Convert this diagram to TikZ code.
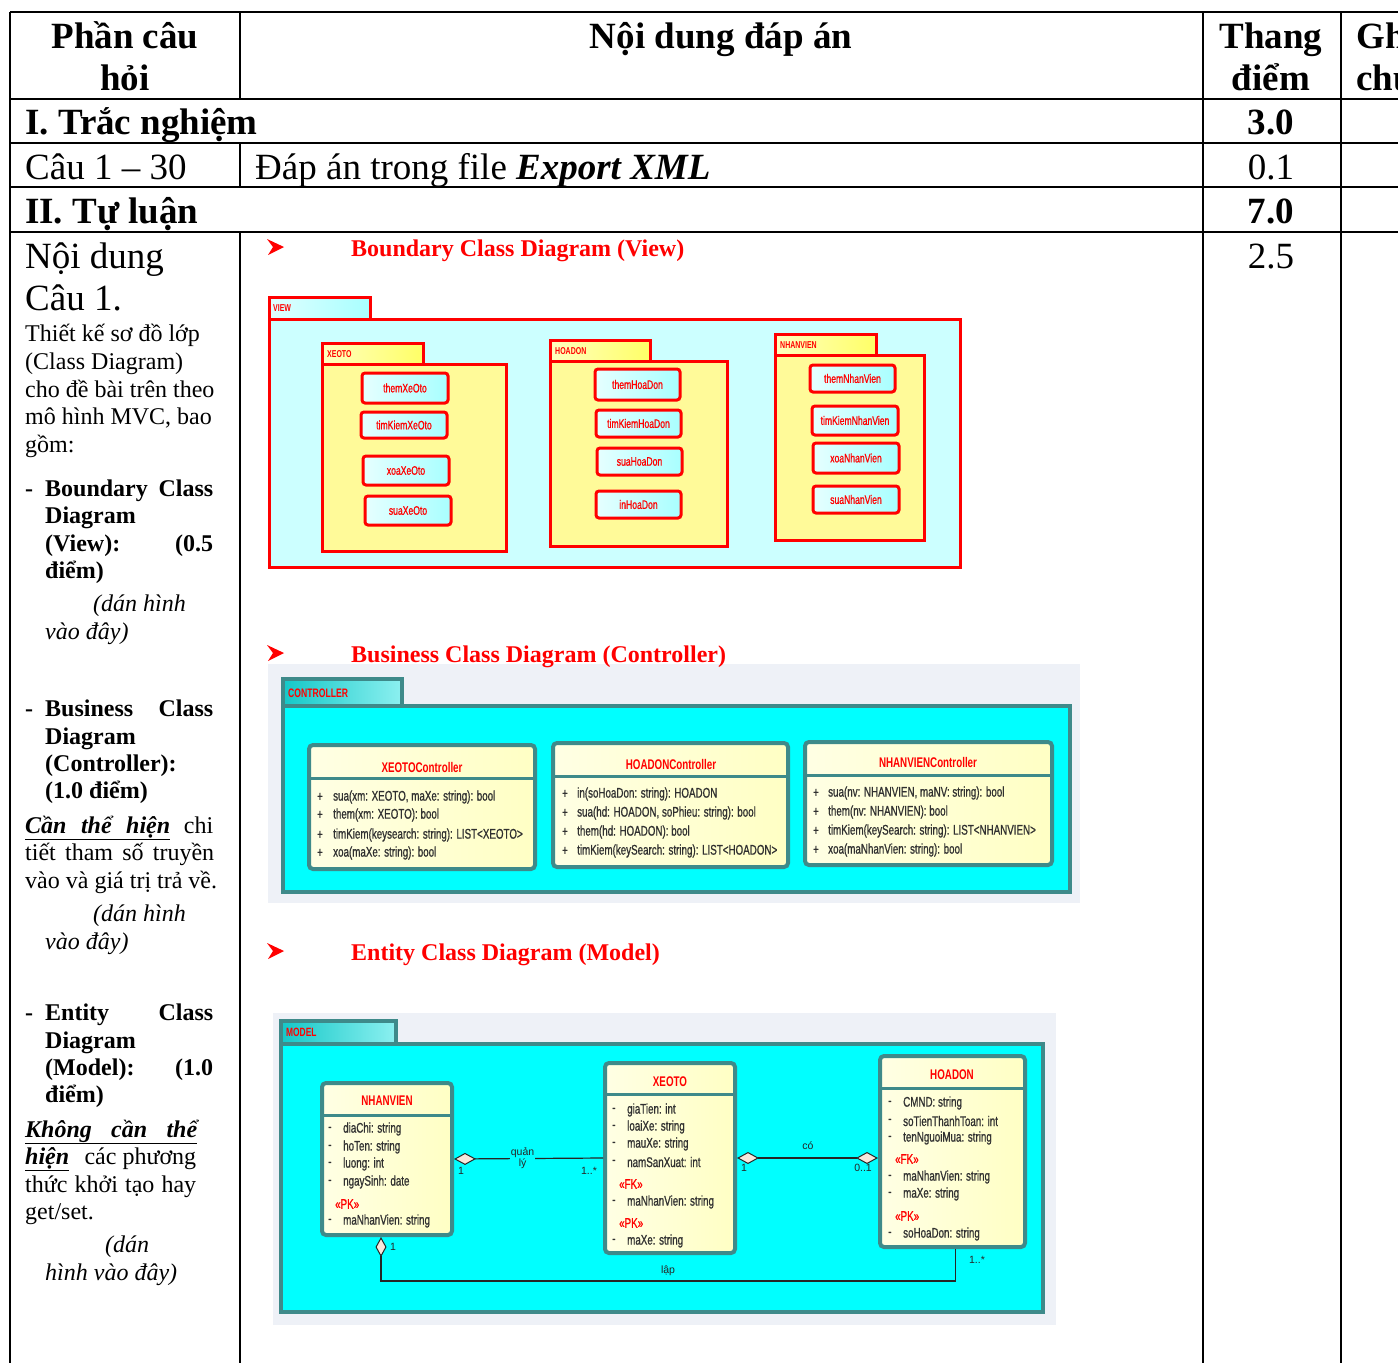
\documentclass[tikz,border=0pt]{standalone}
\usepackage{fontspec}
\setmainfont{Liberation Serif}
\newfontfamily\cnd[FakeStretch=0.7]{Liberation Sans}
\newfontfamily\cndm[FakeStretch=0.7,FakeBold=0.8]{Liberation Sans}
\newfontfamily\lsans{Liberation Sans}
\usetikzlibrary{arrows.meta}
\definecolor{tealb}{HTML}{3E8A8A}
\definecolor{cyanbg}{HTML}{00FFFF}
\definecolor{viewbg}{HTML}{CCFFFF}
\definecolor{pkgyel}{HTML}{FFFA99}
\definecolor{clsyel}{HTML}{FFFFC4}
\definecolor{clsyelL}{HTML}{FFFFE4}
\definecolor{greybg}{HTML}{EEF1F7}
\definecolor{diafill}{HTML}{F8E8DC}
\definecolor{ctabL}{HTML}{14C8C8}
\definecolor{ctabR}{HTML}{8CF0F0}
\definecolor{vtabL}{HTML}{E0FFFF}
\definecolor{vtabR}{HTML}{A8FFFF}
\definecolor{ytabL}{HTML}{FFFFC0}
\definecolor{ytabR}{HTML}{FFFF66}
\definecolor{btnL}{HTML}{E6FFFF}
\definecolor{btnR}{HTML}{A8FFFF}
\definecolor{rowtxt}{HTML}{303030}
\newcommand\fbig{\fontsize{37}{42}\selectfont}
\newcommand\fmid{\fontsize{24}{28}\selectfont}
\newcommand\fcls{\cnd\fontsize{14}{16}\selectfont}
\newcommand\frow{\cndm\fontsize{14}{16}\selectfont}
\newcommand\fbtn{\cndm\fontsize{12.3}{14}\selectfont}
\newcommand\fplbl{\cnd\bfseries\fontsize{10}{11}\selectfont}
\newcommand\fmult{\lsans\fontsize{10.5}{11}\selectfont}
\newcommand\boxat[7]{\node[#1, minimum width={#5-#3}, minimum height={#6-#4}] (#2) at ({(#3+#5)/2},{(#4+#6)/2}) {#7};}
\tikzset{mydia/.tip={Diamond[length=22pt,width=12pt,fill=diafill,line width=1pt]}}
\begin{document}
\begin{tikzpicture}[x=1pt,y=-1pt,
  tbl/.style={line width=2.8pt},
  T/.style={inner sep=0pt,anchor=base west},
  Tc/.style={inner sep=0pt,anchor=base},
  vbody/.style={draw=red,line width=3pt,fill=viewbg,inner sep=0pt},
  vtab/.style={draw=red,line width=3pt,left color=vtabL,right color=vtabR,inner sep=0pt},
  ybody/.style={draw=red,line width=3pt,fill=pkgyel,inner sep=0pt},
  ytab/.style={draw=red,line width=3pt,left color=ytabL,right color=ytabR,inner sep=0pt},
  btn/.style={draw=red,line width=3pt,rounded corners=3pt,left color=btnL,right color=btnR,text=red,font=\fbtn,inner sep=0pt},
  plbl/.style={inner sep=0pt,anchor=west,text=red,font=\fplbl},
  cbg/.style={fill=greybg,draw=none,inner sep=0pt},
  ctab/.style={draw=tealb,line width=3.5pt,left color=ctabL,right color=ctabR,inner sep=0pt},
  cbody/.style={draw=tealb,line width=4pt,fill=cyanbg,inner sep=0pt},
  cls/.style={draw=tealb,line width=4pt,rounded corners=4pt,left color=clsyelL,right color=clsyel,inner sep=0pt},
  sep/.style={draw=tealb,line width=3pt},
  ctitle/.style={inner sep=0pt,text=red,font=\fcls\bfseries},
  row/.style={inner sep=0pt,anchor=west,text=rowtxt,font=\frow},
  stereo/.style={inner sep=0pt,anchor=west,text=red,font=\frow},
  assoc/.style={draw=black!85,line width=1.2pt},
  mult/.style={inner sep=0pt,text=black!85,font=\fmult},
  head/.style={inner sep=0pt,anchor=base west,text=red,font=\fmid\bfseries}
]
\useasboundingbox (0,0) rectangle (1398,1363);
\clip (0,0) rectangle (1398,1363);
\fill[white] (0,0) rectangle (1398,1363);

% ---------------- table grid
\draw[tbl] (10,12) -- (1398,12);
\draw[tbl] (10,99) -- (1398,99);
\draw[tbl] (10,143) -- (1398,143);
\draw[tbl] (10,187) -- (1398,187);
\draw[tbl] (10,232) -- (1398,232);
\draw[tbl] (10,12) -- (10,1363);
\draw[tbl] (240,12) -- (240,99);
\draw[tbl] (240,143) -- (240,187);
\draw[tbl] (240,232) -- (240,1363);
\draw[tbl] (1203,12) -- (1203,1363);
\draw[tbl] (1341,12) -- (1341,1363);

% ---------------- header texts
\node[Tc,font=\fbig\bfseries] (h1a) at (125,48) {Phần câu};
\node[Tc,font=\fbig\bfseries] (h1b) at (125,90) {hỏi};
\node[Tc,font=\fbig\bfseries] (h2) at (721,48) {Nội dung đáp án};
\node[Tc,font=\fbig\bfseries] (h3a) at (1271,48) {Thang};
\node[Tc,font=\fbig\bfseries] (h3b) at (1271,90) {điểm};
\node[T,font=\fbig\bfseries] (h4a) at (1356,48) {Ghi};
\node[T,font=\fbig\bfseries] (h4b) at (1356,90) {chú};

\node[T,font=\fbig\bfseries] (r1) at (25,134) {I. Trắc nghiệm};
\node[Tc,font=\fbig\bfseries] (r1s) at (1271,134) {3.0};
\node[T,font=\fbig] (r2) at (25,179) {Câu 1 – 30};
\node[T,font=\fbig] (r2b) at (255,179) {Đáp án trong file \textbf{\textit{Export XML}}};
\node[Tc,font=\fbig] (r2s) at (1271,179) {0.1};
\node[T,font=\fbig\bfseries] (r3) at (25,223) {II. Tự luận};
\node[Tc,font=\fbig\bfseries] (r3s) at (1271,223) {7.0};
\node[Tc,font=\fbig] (r4s) at (1271,268) {2.5};

% ---------------- left column
\node[T,font=\fbig] (nd1) at (25,268) {Nội dung};
\node[T,font=\fbig] (nd2) at (25,310) {Câu 1.};
\node[T,font=\fmid] (l1) at (25,341) {Thiết kế sơ đồ lớp};
\node[T,font=\fmid] (l2) at (25,369) {(Class Diagram)};
\node[T,font=\fmid] (l3) at (25,397) {cho đề bài trên theo};
\node[T,font=\fmid] (l4) at (25,424) {mô hình MVC, bao};
\node[T,font=\fmid] (l5) at (25,452) {gồm:};

\node[T,font=\fmid\bfseries] (b1d) at (25,496) {-};
\node[T,font=\fmid\bfseries] (b1a) at (45,496) {\makebox[168pt][s]{Boundary Class}};
\node[T,font=\fmid\bfseries] (b1b) at (45,523) {Diagram};
\node[T,font=\fmid\bfseries] (b1c) at (45,551) {\makebox[168pt][s]{(View): (0.5}};
\node[T,font=\fmid\bfseries] (b1e) at (45,578) {điểm)};
\node[T,font=\fmid\itshape] (b1f) at (93,611) {(dán hình};
\node[T,font=\fmid\itshape] (b1g) at (45,639) {vào đây)};

\node[T,font=\fmid\bfseries] (b2d) at (25,716) {-};
\node[T,font=\fmid\bfseries] (b2a) at (45,716) {\makebox[168pt][s]{Business Class}};
\node[T,font=\fmid\bfseries] (b2b) at (45,744) {Diagram};
\node[T,font=\fmid\bfseries] (b2c) at (45,771) {(Controller):};
\node[T,font=\fmid\bfseries] (b2e) at (45,798) {(1.0 điểm)};
\node[T,font=\fmid] (b2f) at (25,833) {\makebox[188pt]{\underline{\makebox[145pt][s]{\bfseries\itshape Cần thể hiện}}\hfill chi}};
\node[T,font=\fmid] (b2g) at (25,860) {\makebox[189pt][s]{tiết tham số truyền}};
\node[T,font=\fmid] (b2h) at (25,888) {vào và giá trị trả về.};
\node[T,font=\fmid\itshape] (b2i) at (93,921) {(dán hình};
\node[T,font=\fmid\itshape] (b2j) at (45,949) {vào đây)};

\node[T,font=\fmid\bfseries] (b3d) at (25,1020) {-};
\node[T,font=\fmid\bfseries] (b3a) at (45,1020) {\makebox[168pt][s]{Entity Class}};
\node[T,font=\fmid\bfseries] (b3b) at (45,1048) {Diagram};
\node[T,font=\fmid\bfseries] (b3c) at (45,1075) {\makebox[168pt][s]{(Model): (1.0}};
\node[T,font=\fmid\bfseries] (b3e) at (45,1102) {điểm)};
\node[T,font=\fmid] (b3f) at (25,1137) {\underline{\makebox[172pt][s]{\bfseries\itshape Không cần thể}}};
\node[T,font=\fmid] (b3g) at (25,1164) {\makebox[171pt]{\underline{\bfseries\itshape hiện}\hfill các phương}};
\node[T,font=\fmid] (b3h) at (25,1192) {\makebox[171pt][s]{thức khởi tạo hay}};
\node[T,font=\fmid] (b3i) at (25,1219) {get/set.};
\node[T,font=\fmid\itshape] (b3j) at (105,1252) {(dán};
\node[T,font=\fmid\itshape] (b3k) at (45,1280) {hình vào đây)};

% ---------------- VIEW
\boxat{vbody}{view}{269}{319}{960}{567}{}
\boxat{vtab}{viewtab}{269}{297}{370}{319}{}
\node[plbl] (viewl) at (273,308) {VIEW};

\boxat{ybody}{pxe}{322}{364}{506}{551}{}
\boxat{ytab}{pxet}{322}{343}{423}{364}{}
\node[plbl] (pxel) at (327,354) {XEOTO};
\boxat{btn}{v1}{362}{373}{448}{403}{themXeOto}
\boxat{btn}{v2}{361}{412}{447}{438}{timKiemXeOto}
\boxat{btn}{v3}{363}{456}{449}{485}{xoaXeOto}
\boxat{btn}{v4}{365}{496}{451}{525}{suaXeOto}

\boxat{ybody}{phd}{550}{361}{727}{546}{}
\boxat{ytab}{phdt}{550}{340}{650}{361}{}
\node[plbl] (phdl) at (555,351) {HOADON};
\boxat{btn}{v5}{595}{369}{680}{400}{themHoaDon}
\boxat{btn}{v6}{596}{410}{681}{437}{timKiemHoaDon}
\boxat{btn}{v7}{597}{448}{682}{475}{suaHoaDon}
\boxat{btn}{v8}{596}{491}{681}{518}{inHoaDon}

\boxat{ybody}{pnv}{775}{355}{924}{540}{}
\boxat{ytab}{pnvt}{775}{334}{876}{355}{}
\node[plbl] (pnvl) at (780,345) {NHANVIEN};
\boxat{btn}{v9}{810}{365}{895}{392}{themNhanVien}
\boxat{btn}{v10}{812}{406}{898}{435}{timKiemNhanVien}
\boxat{btn}{v11}{813}{443}{899}{473}{xoaNhanVien}
\boxat{btn}{v12}{813}{486}{899}{513}{suaNhanVien}

% ---------------- CONTROLLER
\boxat{cbg}{ctrlbg}{268}{664}{1080}{903}{}
\boxat{cbody}{ctrl}{283}{706}{1070}{892}{}
\boxat{ctab}{ctrlt}{283}{679}{402}{706}{}
\node[plbl,font=\cnd\bfseries\fontsize{12.3}{14}\selectfont] (ctrll) at (288,693) {CONTROLLER};

\boxat{cls}{xc}{309}{745}{535}{869}{}
\draw[sep] ([yshift=-35pt]xc.north west) -- ([yshift=-35pt]xc.north east);
\node[ctitle] (xct) at (422,767) {XEOTOController};
\node[row] (xc0) at (317,797) {+};
\node[row] (xc1) at (333,797) {sua(xm: XEOTO, maXe: string): bool};
\node[row] (xc0b) at (317,815) {+};
\node[row] (xc2) at (333,815) {them(xm: XEOTO): bool};
\node[row] (xc0c) at (317,835) {+};
\node[row] (xc3) at (333,835) {timKiem(keysearch: string): LIST<XEOTO>};
\node[row] (xc0d) at (317,853) {+};
\node[row] (xc4) at (333,853) {xoa(maXe: string): bool};

\boxat{cls}{hc}{553}{743}{788}{867}{}
\draw[sep] ([yshift=-35pt]hc.north west) -- ([yshift=-35pt]hc.north east);
\node[ctitle] (hct) at (671,764) {HOADONController};
\node[row] (hc0) at (562,794) {+};
\node[row] (hc1) at (577,794) {in(soHoaDon: string): HOADON};
\node[row] (hc0b) at (562,813) {+};
\node[row] (hc2) at (577,813) {sua(hd: HOADON, soPhieu: string): bool};
\node[row] (hc0c) at (562,832) {+};
\node[row] (hc3) at (577,832) {them(hd: HOADON): bool};
\node[row] (hc0d) at (562,851) {+};
\node[row] (hc4) at (577,851) {timKiem(keySearch: string): LIST<HOADON>};

\boxat{cls}{nc}{805}{742}{1052}{865}{}
\draw[sep] ([yshift=-35pt]nc.north west) -- ([yshift=-35pt]nc.north east);
\node[ctitle] (nct) at (928,762) {NHANVIENController};
\node[row] (nc0) at (813,793) {+};
\node[row] (nc1) at (828,793) {sua(nv: NHANVIEN, maNV: string): bool};
\node[row] (nc0b) at (813,812) {+};
\node[row] (nc2) at (828,812) {them(nv: NHANVIEN): bool};
\node[row] (nc0c) at (813,831) {+};
\node[row] (nc3) at (828,831) {timKiem(keySearch: string): LIST<NHANVIEN>};
\node[row] (nc0d) at (813,850) {+};
\node[row] (nc4) at (828,850) {xoa(maNhanVien: string): bool};

% ---------------- MODEL
\boxat{cbg}{modbg}{273}{1013}{1056}{1325}{}
\boxat{cbody}{mod}{281}{1044}{1043}{1312}{}
\boxat{ctab}{modt}{281}{1021}{396}{1044}{}
\node[plbl,font=\cnd\bfseries\fontsize{12}{14}\selectfont] (modl) at (286,1032) {MODEL};

\boxat{cls}{nv}{322}{1083}{452}{1235}{}
\draw[sep] ([yshift=-34pt]nv.north west) -- ([yshift=-34pt]nv.north east);
\node[ctitle] (nvt) at (387,1101) {NHANVIEN};
\node[row] (nv0a) at (328,1129) {-};
\node[row] (nv1) at (343,1129) {diaChi: string};
\node[row] (nv0b) at (328,1147) {-};
\node[row] (nv2) at (343,1147) {hoTen: string};
\node[row] (nv0c) at (328,1164) {-};
\node[row] (nv3) at (343,1164) {luong: int};
\node[row] (nv0d) at (328,1182) {-};
\node[row] (nv4) at (343,1182) {ngaySinh: date};
\node[stereo] (nvpk) at (335,1204) {«PK»};
\node[row] (nv0e) at (328,1221) {-};
\node[row] (nv5) at (343,1221) {maNhanVien: string};

\boxat{cls}{xe}{605}{1063}{735}{1253}{}
\draw[sep] ([yshift=-33pt]xe.north west) -- ([yshift=-33pt]xe.north east);
\node[ctitle] (xet) at (670,1082) {XEOTO};
\node[row] (xe0a) at (612,1110) {-};
\node[row] (xe1) at (627,1110) {giaTien: int};
\node[row] (xe0b) at (612,1127) {-};
\node[row] (xe2) at (627,1127) {loaiXe: string};
\node[row] (xe0c) at (612,1144) {-};
\node[row] (xe3) at (627,1144) {mauXe: string};
\node[row] (xe0d) at (612,1162) {-};
\node[row] (xe4) at (627,1162) {namSanXuat: int};
\node[stereo] (xefk) at (619,1184) {«FK»};
\node[row] (xe0e) at (612,1202) {-};
\node[row] (xe5) at (627,1202) {maNhanVien: string};
\node[stereo] (xepk) at (619,1223) {«PK»};
\node[row] (xe0f) at (612,1241) {-};
\node[row] (xe6) at (627,1241) {maXe: string};

\boxat{cls}{hd}{880}{1056}{1025}{1247}{}
\draw[sep] ([yshift=-34pt]hd.north west) -- ([yshift=-34pt]hd.north east);
\node[ctitle] (hdt) at (952,1075) {HOADON};
\node[row] (hd0a) at (888,1103) {-};
\node[row] (hd1r) at (903,1103) {CMND: string};
\node[row] (hd0b) at (888,1121) {-};
\node[row] (hd2r) at (903,1121) {soTienThanhToan: int};
\node[row] (hd0c) at (888,1138) {-};
\node[row] (hd3r) at (903,1138) {tenNguoiMua: string};
\node[stereo] (hdfk) at (895,1159) {«FK»};
\node[row] (hd0d) at (888,1177) {-};
\node[row] (hd4r) at (903,1177) {maNhanVien: string};
\node[row] (hd0e) at (888,1194) {-};
\node[row] (hd5r) at (903,1194) {maXe: string};
\node[stereo] (hdpk) at (895,1216) {«PK»};
\node[row] (hd0f) at (888,1234) {-};
\node[row] (hd6r) at (903,1234) {soHoaDon: string};

% connectors
\draw[assoc, mydia-] (nv.east) -- (xe.west)
  node[pos=0.46, fill=cyanbg, inner sep=0.5pt, align=center, font=\fmult, text=black!85] (ql) {quản\\lý};
\node[mult] (m1) at (461,1171) {1};
\node[mult] (m2) at (589,1171) {1..*};

\draw[assoc, mydia-mydia] (xe.east) -- (xe.east -| hd.west);
\node[mult] (co) at (808,1146) {có};
\node[mult] (m3) at (744,1168) {1};
\node[mult] (m4) at (863,1168) {0..1};

\draw[assoc, {Diamond[length=20pt,width=11pt,fill=diafill,line width=1pt]}-] ([xshift=-6pt]nv.south) -- ++(0,44) -| ([xshift=3pt]hd.south);
\node[mult] (m5) at (393,1247) {1};
\node[mult] (lap) at (668,1271) {lập};
\node[mult] (m6) at (977,1260) {1..*};

% ---------------- headings (drawn last)
\fill[red] (267,239) -- (284,247) -- (268,255) -- (273,247) -- cycle;
\node[head] (hd1) at (351,256) {Boundary Class Diagram (View)};
\fill[red] (267,645) -- (284,653) -- (268,661) -- (273,653) -- cycle;
\node[head] (hd2) at (351,662) {Business Class Diagram (Controller)};
\fill[red] (267,943) -- (284,951) -- (268,959) -- (273,951) -- cycle;
\node[head] (hd3) at (351,960) {Entity Class Diagram (Model)};
\end{tikzpicture}
\end{document}
